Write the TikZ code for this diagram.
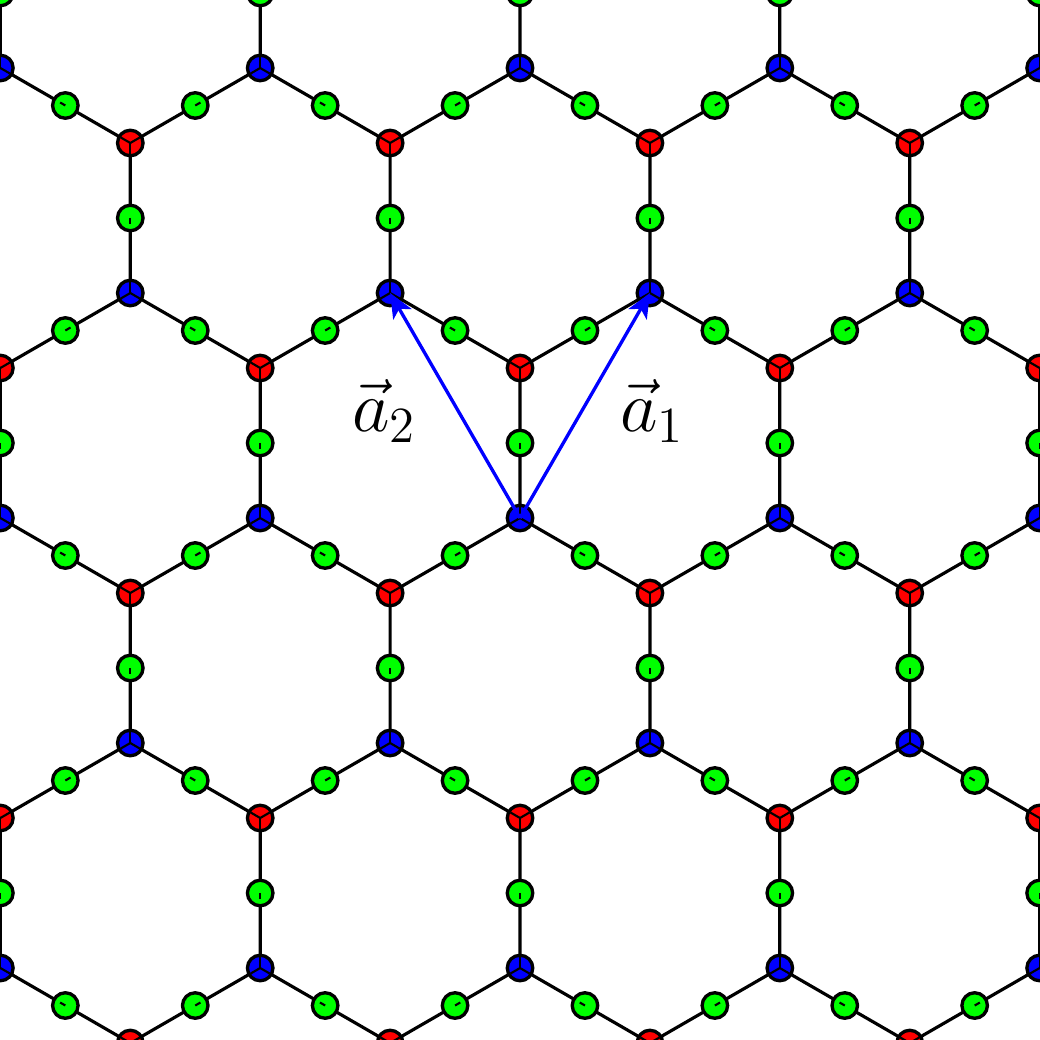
\documentclass[tikz,border=0pt]{standalone}
\usetikzlibrary{calc,arrows.meta}
\begin{document}
\begin{tikzpicture}[x=0.01cm,y=-0.01cm,
  bond/.style={line width=0.9pt,black},
  site/.style={circle,draw=black,line width=0.95pt,minimum size=0.255cm,inner sep=0pt},
  bsite/.style={site,fill=blue},
  rsite/.style={site,fill=red},
  gsite/.style={site,fill=green},
  stub/.style={line width=0.6pt,black},
  vec/.style={line width=0.95pt,blue,-{Stealth[length=7pt,width=6pt,inset=1.8pt]}},
  lab/.style={font=\fontsize{22}{26}\selectfont,inner sep=0pt}]
\useasboundingbox (0,0) rectangle (1040,1040);
\clip (0,0) rectangle (1040,1040);
% lattice points
\foreach \K in {0,...,7}{
  \foreach \I in {0,...,8}{
    \pgfmathsetmacro\xx{520+259.81*(\I-4)-129.9*mod(\K+1,2)}
    \pgfmathsetmacro\yy{518+225*(\K-3)}
    \coordinate (b\I-\K) at (\xx,\yy);
    \coordinate (r\I-\K) at (\xx,\yy-150);
  }
}
% bonds
\foreach \K in {0,...,6}{
  \foreach \I in {1,...,7}{
    \pgfmathtruncatemacro\pp{mod(\K+1,2)}
    \pgfmathtruncatemacro\L{\I-\pp}
    \pgfmathtruncatemacro\R{\I+1-\pp}
    \pgfmathtruncatemacro\N{\K+1}
    \draw[bond] (r\I-\K) -- (b\I-\K) -- (r\L-\N);
    \draw[bond] (b\I-\K) -- (r\R-\N);
  }
}
% green midpoints
\foreach \K in {0,...,6}{
  \foreach \I in {1,...,7}{
    \pgfmathtruncatemacro\pp{mod(\K+1,2)}
    \pgfmathtruncatemacro\L{\I-\pp}
    \pgfmathtruncatemacro\R{\I+1-\pp}
    \pgfmathtruncatemacro\N{\K+1}
    \node[gsite] (gu\I-\K) at ($(b\I-\K)!0.5!(r\I-\K)$) {};
    \draw[stub] (gu\I-\K.center) -- ++(0,6);
    \node[gsite] (gl\I-\K) at ($(b\I-\K)!0.5!(r\L-\N)$) {};
    \draw[stub] (gl\I-\K.center) -- ++(5.2,-3);
    \node[gsite] (gr\I-\K) at ($(b\I-\K)!0.5!(r\R-\N)$) {};
    \draw[stub] (gr\I-\K.center) -- ++(-5.2,-3);
  }
}
% red and blue sites
\foreach \K in {0,...,7}{
  \foreach \I in {0,...,8}{
    \node[rsite] (R\I-\K) at (r\I-\K) {};
    \draw[stub] (R\I-\K.center) -- ++(0,11);
    \draw[stub] (R\I-\K.center) -- ++(-9.5,-5.5);
    \draw[stub] (R\I-\K.center) -- ++(9.5,-5.5);
    \node[bsite] (B\I-\K) at (b\I-\K) {};
    \draw[stub] (B\I-\K.center) -- ++(0,-11);
    \draw[stub] (B\I-\K.center) -- ++(-9.5,5.5);
    \draw[stub] (B\I-\K.center) -- ++(9.5,5.5);
  }
}
% lattice vectors
\draw[vec] (b4-3) -- (b5-2);
\draw[vec] (b4-3) -- (b4-2);
\node[lab] (a1) at (652,411) {$\vec a_1$};
\node[lab] (a2) at (384,411) {$\vec a_2$};
\end{tikzpicture}
\end{document}
